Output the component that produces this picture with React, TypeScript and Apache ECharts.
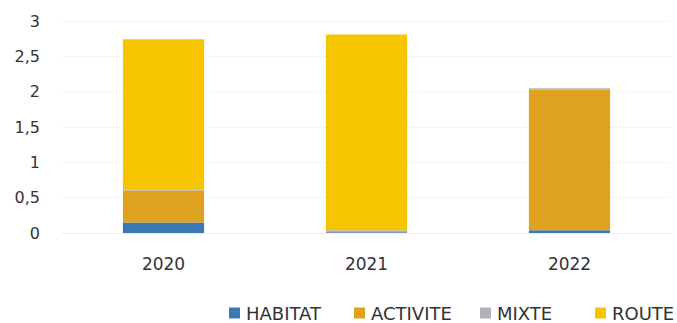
import React, { useEffect, useRef } from "react";
import * as echarts from "echarts";

const categories = ["2020", "2021", "2022"];
const habitat = [0.15, 0.01, 0.04];
const activite = [0.45, 0.0, 1.99];
const mixte = [0.02, 0.03, 0.02];
const route = [2.12, 2.77, 0.0];
const yTicks = [0, 0.5, 1, 1.5, 2, 2.5, 3];
const legendNames = ["HABITAT", "ACTIVITE", "MIXTE", "ROUTE"];
const legendLefts = [229, 354, 480, 595];

export default function App() {
  const ref = useRef<HTMLDivElement>(null);
  useEffect(() => {
    const chart = echarts.init(ref.current!, null, { renderer: "svg" });
    const font = "'DejaVu Sans', 'Noto Sans', sans-serif";
    const mk = (name: string, data: number[], color: string) => ({
      name,
      type: "bar",
      stack: "total",
      data,
      barWidth: "40%",
      itemStyle: { color },
    });
    chart.setOption({
      animation: false,
      textStyle: { fontFamily: font },
      grid: { left: 62, right: 6, top: 21, bottom: 90 },
      xAxis: {
        type: "category",
        data: categories,
        axisLine: { show: true, lineStyle: { color: "#eeeeee" } },
        axisTick: { show: false },
        axisLabel: { fontSize: 17, color: "#333", margin: 22, fontFamily: font },
      },
      yAxis: {
        type: "value",
        min: yTicks[0],
        max: yTicks[yTicks.length - 1],
        interval: 0.5,
        axisLine: { show: false },
        axisTick: { show: false },
        splitLine: { lineStyle: { color: "#f5f5f5" } },
        axisLabel: {
          fontSize: 16,
          color: "#333",
          margin: 22,
          fontFamily: font,
          formatter: (v: number) => String(v).replace(".", ","),
        },
      },
      legend: legendNames.map((n, i) => ({
        top: 304,
        left: legendLefts[i],
        padding: 0,
        itemWidth: 11,
        itemHeight: 11,
        icon: "rect",
        textStyle: { fontSize: 18, color: "#333", fontFamily: font, padding: [0, 0, 0, 1] },
        data: [n],
      })),
      series: [
        mk("HABITAT", habitat, "#3b78b4"),
        mk("ACTIVITE", activite, "#dfa21f"),
        mk("MIXTE", mixte, "#b0b0b8"),
        mk("ROUTE", route, "#f6c500"),
      ],
    });
    return () => chart.dispose();
  }, []);
  return (
    <div
      ref={ref}
      style={{ position: "absolute", left: 0, top: 0, width: 677, height: 323 }}
    />
  );
}
